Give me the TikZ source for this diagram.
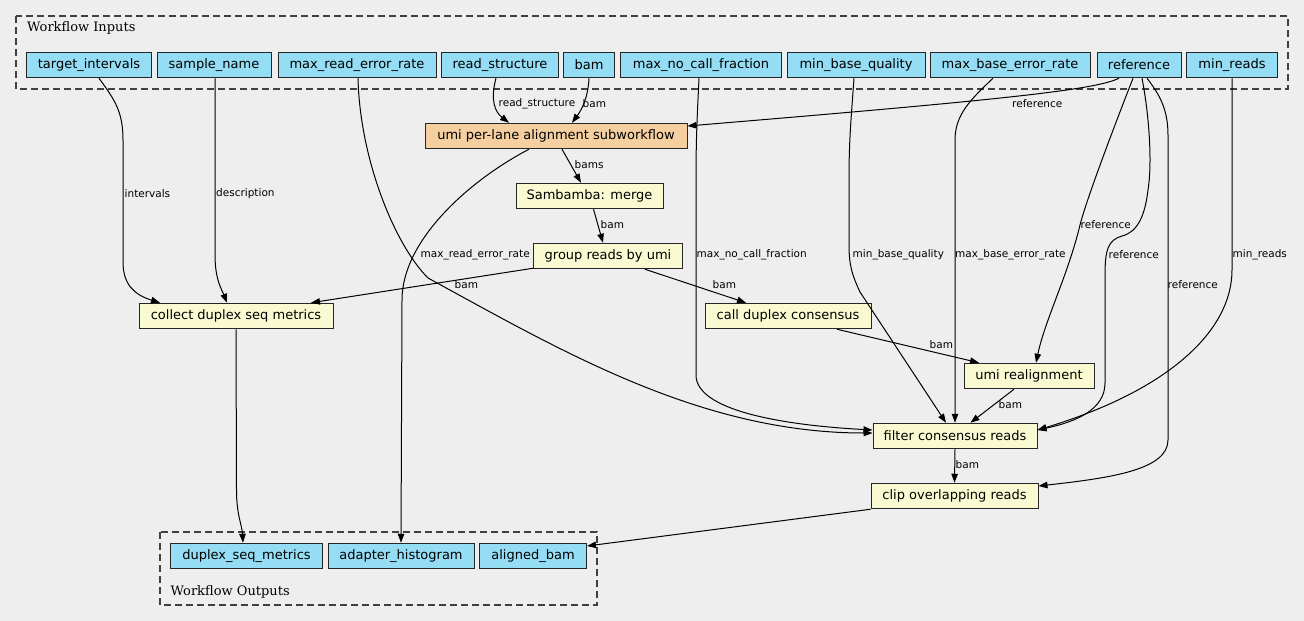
\documentclass[tikz,border=0pt]{standalone}
\usepackage{fontspec}
\setmainfont{DejaVu Serif}
\newfontfamily\boxfont{DejaVu Sans}
\usetikzlibrary{arrows.meta,calc}
\definecolor{bgcol}{HTML}{EEEEEE}
\definecolor{inblue}{HTML}{94DDF4}
\definecolor{taskyel}{HTML}{FAFAD2}
\definecolor{subpeach}{HTML}{F5CFA0}

\begin{document}
\begin{tikzpicture}[
    x=1pt, y=-1pt,
    io/.style={draw=black!85, line width=1pt, fill=inblue, minimum height=25.5pt, inner sep=0pt, font=\boxfont\fontsize{13}{15}\selectfont},
    task/.style={io, fill=taskyel},
    subwf/.style={io, fill=subpeach},
    lbl/.style={anchor=west, inner sep=0pt, font=\boxfont\fontsize{10.5}{12}\selectfont},
    grplbl/.style={anchor=west, inner sep=0pt, font=\fontsize{13}{15}\selectfont},
    cluster/.style={draw=black!75, line width=1.1pt, dash pattern=on 7pt off 4pt},
    arrow/.style={-{Triangle[length=9pt,width=6.5pt]}, line width=1pt}
]
% Background
\fill[bgcol] (0,0) rectangle (1304,621);
\useasboundingbox (0,0) rectangle (1304,621);

% Clusters
\draw[cluster] (16,16) rectangle (1288,89);
\node[grplbl] (inlbl) at (27,28) {Workflow Inputs};
\draw[cluster] (160,532) rectangle (597,605);
\node[grplbl] (outlbl) at (170.5,591.5) {Workflow Outputs};

% Workflow inputs
\node[io, minimum width=125] (tint) at (89,65) {target\_intervals};
\node[io, minimum width=114] (sname) at (214,65) {sample\_name};
\node[io, minimum width=158] (mrer) at (357,65) {max\_read\_error\_rate};
\node[io, minimum width=117] (rstruct) at (500,65) {read\_structure};
\node[io, minimum width=51] (bam) at (589,65) {bam};
\node[io, minimum width=161] (mncf) at (701,65) {max\_no\_call\_fraction};
\node[io, minimum width=138] (mbq) at (856,65) {min\_base\_quality};
\node[io, minimum width=160] (mber) at (1010,65) {max\_base\_error\_rate};
\node[io, minimum width=84] (ref) at (1139,65) {reference};
\node[io, minimum width=91] (minr) at (1232,65) {min\_reads};

% Tasks
\node[subwf, minimum width=262] (umi) at (556,136) {umi per-lane alignment subworkflow};
\node[task, minimum width=147] (samb) at (589.5,196) {Sambamba: merge};
\node[task, minimum width=149] (group) at (608,256) {group reads by umi};
\node[task, minimum width=194] (coll) at (236,316) {collect duplex seq metrics};
\node[task, minimum width=166] (call) at (788,316) {call duplex consensus};
\node[task, minimum width=130] (ureal) at (1029,376) {umi realignment};
\node[task, minimum width=164] (filt) at (955,436) {filter consensus reads};
\node[task, minimum width=167] (clip) at (954.5,496) {clip overlapping reads};

% Workflow outputs
\node[io, minimum width=152] (dsm) at (246.5,556) {duplex\_seq\_metrics};
\node[io, minimum width=146] (ahist) at (401,556) {adapter\_histogram};
\node[io, minimum width=107] (abam) at (533,556) {aligned\_bam};

% Input edges
\draw[arrow] ($(tint.south)+(10,0)$) .. controls (115,100) and (123,112) .. (123,140) -- (123,262) .. controls (123,285) and (135,295) .. ($(coll.north)+(-76,0)$);
\draw[arrow] ($(sname.south)+(1,0)$) -- (215,255) .. controls (215,280) and (222,290) .. ($(coll.north)+(-9,0)$);
\draw[arrow] ($(mrer.south)+(1,0)$) .. controls (360,160) and (395,245) .. (428,278) .. controls (560,350) and (700,433) .. ($(filt.west)+(0,-3)$);
\draw[arrow] ($(rstruct.south)+(-4,0)$) .. controls (490,100) and (495,112) .. ($(umi.north)+(-47,0)$);
\draw[arrow] (bam.south) .. controls (588,100) and (580,112) .. ($(umi.north)+(16,0)$);
\draw[arrow] ($(ref.south)+(-20,0)$) .. controls (1095,90) and (1000,100) .. ($(umi.east)+(0,-10)$);
\draw[arrow] ($(mncf.south)+(-2,0)$) .. controls (697,120) and (696,140) .. (696,180) -- (696,375) .. controls (696,410) and (780,425) .. ($(filt.west)+(0,-6)$);
\draw[arrow] ($(mbq.south)+(-2,0)$) .. controls (851,120) and (849,140) .. (849,180) -- (849,245) .. controls (849,265) and (852,275) .. (860,292) -- ($(filt.north)+(-9,0)$);
\draw[arrow] ($(mber.south)+(-17,0)$) .. controls (970,100) and (955,115) .. (955,140) -- (filt.north);
\draw[arrow] ($(ref.south)+(-6,0)$) .. controls (1105,150) and (1085,205) .. (1080,225) .. controls (1068,275) and (1045,320) .. ($(ureal.north)+(7,0)$);
\draw[arrow] ($(ref.south)+(3,0)$) .. controls (1150,120) and (1152,165) .. (1148,190) .. controls (1145,215) and (1138,232) .. (1122,236) .. controls (1108,240) and (1105,250) .. (1105,275) -- (1105,383) .. controls (1105,410) and (1075,422) .. ($(filt.east)+(0,-6)$);
\draw[arrow] ($(ref.south)+(8,0)$) .. controls (1160,95) and (1168,110) .. (1168,135) -- (1168,440) .. controls (1168,470) and (1110,478) .. ($(clip.east)+(0,-10)$);
\draw[arrow] (minr.south) -- (1232,270) .. controls (1232,330) and (1170,390) .. ($(filt.east)+(0,-6)$);

% Task edges
\draw[arrow] ($(umi.south)+(6,0)$) -- ($(samb.north)+(-8.5,0)$);
\draw[arrow] ($(umi.south)+(-27,0)$) .. controls (470,180) and (402,240) .. (402,300) -- (ahist.north);
\draw[arrow] ($(samb.south)+(4,0)$) -- ($(group.north)+(-5,0)$);
\draw[arrow] ($(group.south west)+(0,-1)$) -- ($(coll.north)+(75,0)$);
\draw[arrow] ($(group.south)+(37,0)$) -- ($(call.north)+(-42,0)$);
\draw[arrow] ($(call.south)+(49,0)$) -- ($(ureal.north)+(-50,0)$);
\draw[arrow] ($(ureal.south)+(-15,0)$) -- ($(filt.north)+(15.5,0)$);
\draw[arrow] (filt.south) -- (clip.north);
\draw[arrow] (clip.south west) -- ($(abam.east)+(0,-10)$);
\draw[arrow] (coll.south) -- (236.5,490) .. controls (236.5,515) and (242,525) .. ($(dsm.north)+(-3.5,0)$);

% Edge labels
\node[lbl] (l-int) at (124.5,194) {intervals};
\node[lbl] (l-desc) at (216,194) {description};
\node[lbl] (l-mrer) at (420.5,255) {max\_read\_error\_rate};
\node[lbl] (l-rstruct) at (498.5,104) {read\_structure};
\node[lbl] (l-bam) at (582.5,104) {bam};
\node[lbl] (l-refumi) at (1012,104) {reference};
\node[lbl] (l-bams) at (574.5,165) {bams};
\node[lbl] (l-sbam) at (600.5,225) {bam};
\node[lbl] (l-gbam1) at (454.5,285) {bam};
\node[lbl] (l-gbam2) at (712.5,285) {bam};
\node[lbl] (l-mncf) at (696.5,255) {max\_no\_call\_fraction};
\node[lbl] (l-mbq) at (852.5,255) {min\_base\_quality};
\node[lbl] (l-mber) at (955,255) {max\_base\_error\_rate};
\node[lbl] (l-refureal) at (1080.5,225) {reference};
\node[lbl] (l-reffilt) at (1108.5,255) {reference};
\node[lbl] (l-minr) at (1232.5,255) {min\_reads};
\node[lbl] (l-refclip) at (1167.5,285) {reference};
\node[lbl] (l-cbam) at (929.5,345) {bam};
\node[lbl] (l-ubam) at (998.5,405) {bam};
\node[lbl] (l-fbam) at (955.5,465) {bam};

\end{tikzpicture}
\end{document}
